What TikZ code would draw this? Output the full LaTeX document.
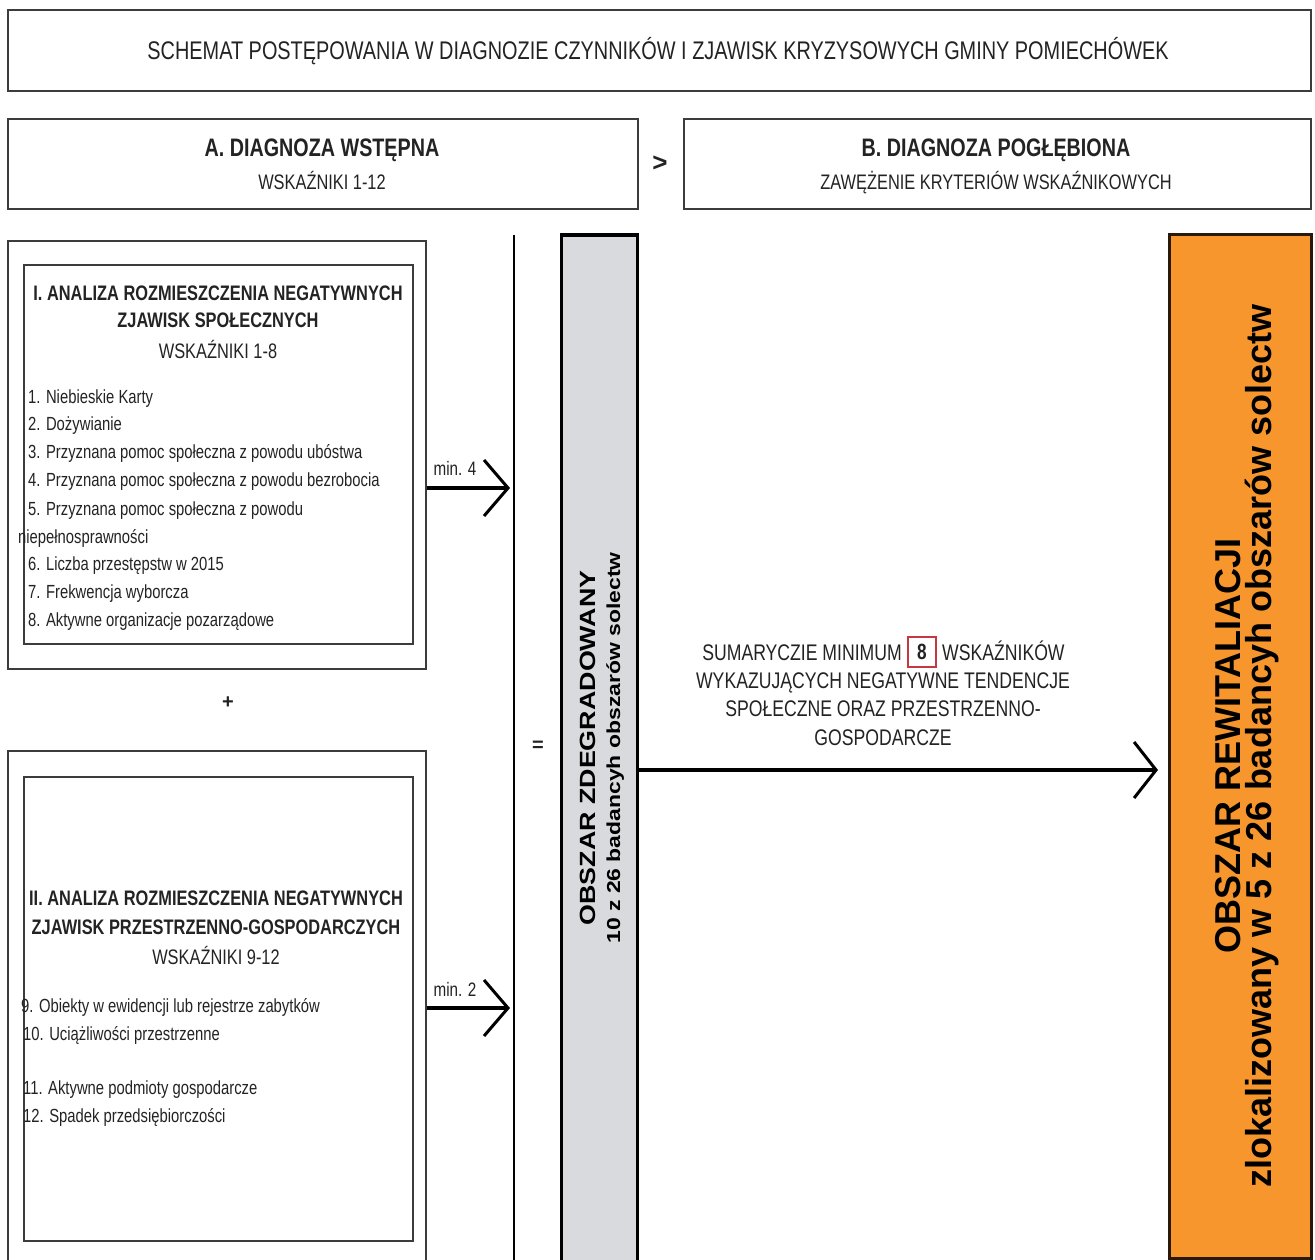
\documentclass[tikz,border=0pt]{standalone}
\usepackage{fontspec}
\setmainfont{Liberation Sans}
\newfontfamily\narrow[FakeStretch=0.78]{Liberation Sans}
\newfontfamily\wide[FakeStretch=1.22]{Liberation Sans}
\usetikzlibrary{arrows.meta}
\definecolor{ink}{RGB}{35,35,35}
\definecolor{frame}{RGB}{60,60,60}
\definecolor{greyfill}{RGB}{216,218,221}
\definecolor{orangefill}{RGB}{246,150,45}
\definecolor{orangeframe}{RGB}{40,25,10}
\definecolor{redframe}{RGB}{200,55,65}
\begin{document}
\begin{tikzpicture}[x=1pt,y=-1pt,
  box/.style={draw=frame, line width=1.8pt, inner sep=0pt, anchor=north west},
  ttl/.style={font=\narrow\fontsize{25.5}{30}\selectfont, text=ink, anchor=base, inner sep=0pt},
  hdr/.style={font=\narrow\bfseries\fontsize{25.3}{30}\selectfont, text=ink, anchor=base, inner sep=0pt},
  sub/.style={font=\narrow\fontsize{21}{25}\selectfont, text=ink, anchor=base, inner sep=0pt},
  sec/.style={font=\narrow\bfseries\fontsize{21}{25}\selectfont, text=ink, anchor=base, inner sep=0pt},
  item/.style={font=\narrow\fontsize{19}{22}\selectfont, text=ink, anchor=base west, inner sep=0pt},
  lbl/.style={font=\narrow\fontsize{19.5}{22}\selectfont, text=ink, inner sep=0pt},
  sumtext/.style={font=\narrow\fontsize{22.6}{27}\selectfont, text=ink, inner sep=0pt},
  sign/.style={font=\bfseries\fontsize{20}{24}\selectfont, text=ink, inner sep=0pt},
  smallarrow/.style={draw=black, line width=4.5pt, -{Straight Barb[length=24pt,width=56pt,line width=3pt]}},
  bigarrow/.style={draw=black, line width=4.5pt, -{Straight Barb[length=22pt,width=56pt,line width=3pt]}},
  vert/.style={rotate=90, anchor=base, inner sep=0pt, text=black},
]
\useasboundingbox (0,0) rectangle (1315,1260);
\clip (0,0) rectangle (1315,1260);
\fill[white] (0,0) rectangle (1315,1260);

% title
\node[box, minimum width=1303pt, minimum height=81pt] (title) at (7,9) {};
\node[ttl] (titletext) at (658,59.5) {SCHEMAT POSTĘPOWANIA W DIAGNOZIE CZYNNIKÓW I ZJAWISK KRYZYSOWYCH GMINY POMIECHÓWEK};

% A and B
\node[box, minimum width=630pt, minimum height=90pt] (boxA) at (7,118) {};
\node[hdr] (Ahead) at (322,157) {A. DIAGNOZA WSTĘPNA};
\node[sub] (Asub) at (322,190) {WSKAŹNIKI 1-12};
\node[sign, font=\bfseries\fontsize{26}{30}\selectfont] (gt) at (660,164) {>};
\node[box, minimum width=627pt, minimum height=90pt] (boxB) at (683,118) {};
\node[hdr] (Bhead) at (996,157) {B. DIAGNOZA POGŁĘBIONA};
\node[sub] (Bsub) at (996,190) {ZAWĘŻENIE KRYTERIÓW WSKAŹNIKOWYCH};

% section I
\node[box, minimum width=418pt, minimum height=428pt] (outerI) at (7,240) {};
\node[box, minimum width=389pt, minimum height=379pt] (innerI) at (23,264) {};
\node[sec] (Ihead1) at (218,300) {I. ANALIZA ROZMIESZCZENIA NEGATYWNYCH};
\node[sec] (Ihead2) at (218,327) {ZJAWISK SPOŁECZNYCH};
\node[sub] (Isub) at (218,358.5) {WSKAŹNIKI 1-8};
\node[item] (i1) at (28,403) {1. Niebieskie Karty};
\node[item] (i2) at (28,430) {2. Dożywianie};
\node[item] (i3) at (28,458) {3. Przyznana pomoc społeczna z powodu ubóstwa};
\node[item] (i4) at (28,486) {4. Przyznana pomoc społeczna z powodu bezrobocia};
\node[item] (i5) at (28,515) {5. Przyznana pomoc społeczna z powodu};
\node[item] (i5b) at (18,543) {niepełnosprawności};
\node[item] (i6) at (28,570) {6. Liczba przestępstw w 2015};
\node[item] (i7) at (28,598) {7. Frekwencja wyborcza};
\node[item] (i8) at (28,626) {8. Aktywne organizacje pozarządowe};

\node[sign] (plus) at (228,703) {+};

% section II
\node[box, minimum width=418pt, minimum height=540pt] (outerII) at (7,750) {};
\node[box, minimum width=389pt, minimum height=464pt] (innerII) at (23,776) {};
\node[sec] (IIhead1) at (216,905.5) {II. ANALIZA ROZMIESZCZENIA NEGATYWNYCH};
\node[sec] (IIhead2) at (216,934.5) {ZJAWISK PRZESTRZENNO-GOSPODARCZYCH};
\node[sub] (IIsub) at (216,964.5) {WSKAŹNIKI 9-12};
\node[item] (i9) at (21,1012) {9. Obiekty w ewidencji lub rejestrze zabytków};
\node[item] (i10) at (23,1040) {10. Uciążliwości przestrzenne};
\node[item] (i11) at (23,1094) {11. Aktywne podmioty gospodarcze};
\node[item] (i12) at (23,1122) {12. Spadek przedsiębiorczości};

% vertical line and "="
\coordinate (vtop) at (514,235);
\coordinate (vbot) at (514,1275);
\draw[black, line width=2.5pt] (vtop) -- (vbot);
\node[sign] (eq) at (538,746) {=};

% arrows min.
\coordinate (m4) at (510,488);
\coordinate (m2) at (510,1008);
\draw[smallarrow] (outerI.east |- m4) -- (m4);
\node[lbl] (m4lbl) at (455,468) {min. 4};
\draw[smallarrow] (outerII.east |- m2) -- (m2);
\node[lbl] (m2lbl) at (455,989) {min. 2};

% grey box
\node[draw=black, line width=2.5pt, fill=greyfill, minimum width=76pt, minimum height=1050pt, anchor=north west, inner sep=0pt] (grey) at (560,235) {};
\draw[black, line width=4pt] (grey.north west) -- (grey.north east);
\node[vert, font=\wide\bfseries\fontsize{22}{26}\selectfont] (grey1) at (595,748) {OBSZAR ZDEGRADOWANY};
\node[vert, font=\wide\bfseries\fontsize{18.8}{22}\selectfont] (grey2) at (620,748) {10 z 26 badancyh obszarów solectw};

% orange box
\node[draw=orangeframe, line width=3pt, fill=orangefill, minimum width=142pt, minimum height=1024pt, anchor=north west, inner sep=0pt] (orange) at (1168,233) {};
\node[vert, font=\bfseries\fontsize{36}{40}\selectfont] (or1) at (1240,746) {OBSZAR REWITALIACJI};
\node[vert, font=\bfseries\fontsize{36}{40}\selectfont] (or2) at (1271,746) {zlokalizowany w 5 z 26 badancyh obszarów solectw};

% big arrow
\coordinate (bigtip) at (1158,770);
\draw[bigarrow] (grey.east |- bigtip) -- (bigtip);
\node[sumtext, anchor=base east] (sum1a) at (902,660) {SUMARYCZIE MINIMUM};
\node[draw=redframe, line width=2pt, minimum width=28pt, minimum height=30pt, inner sep=0pt, font=\narrow\bfseries\fontsize{22}{26}\selectfont, text=ink] (eight) at (922,652) {8};
\node[sumtext, anchor=base west] (sum1b) at (942,660) {WSKAŹNIKÓW};
\node[sumtext, anchor=base] (sum2) at (883,688) {WYKAZUJĄCYCH NEGATYWNE TENDENCJE};
\node[sumtext, anchor=base] (sum3) at (883,716) {SPOŁECZNE ORAZ PRZESTRZENNO-};
\node[sumtext, anchor=base] (sum4) at (883,745) {GOSPODARCZE};
\end{tikzpicture}
\end{document}
